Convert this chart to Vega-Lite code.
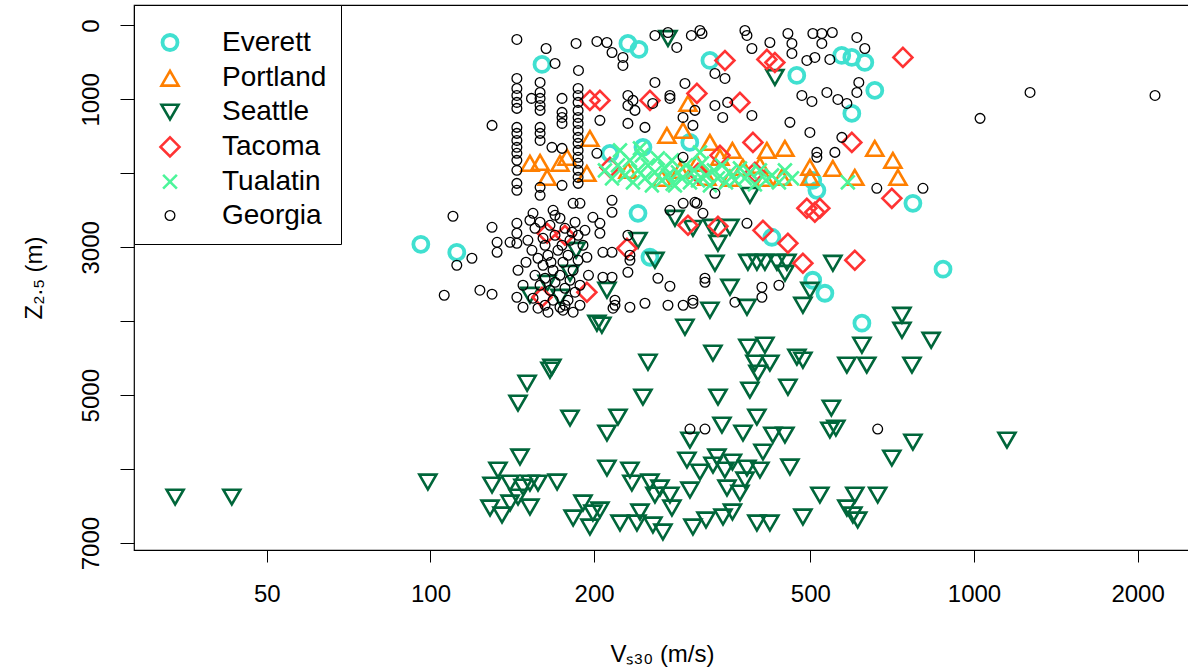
{
"$schema": "https://vega.github.io/schema/vega-lite/v6.json",
"width": 1056, "height": 545,
"autosize": {"type": "none"},
"padding": {"left": 134, "top": 5, "right": 0, "bottom": 120},
"background": "white",
"config": {
  "view": {"stroke": "black", "strokeWidth": 1.2},
  "font": "Liberation Sans",
  "legend": {"orient": "none", "legendX": 0, "legendY": 0, "strokeColor": "black", "fillColor": "white", "padding": 14, "rowPadding": 5.8, "symbolOffset": 8, "labelFontSize": 28, "labelOffset": 38, "labelFont": "Liberation Sans", "labelColor": "black", "titleFontSize": 2, "titlePadding": 7.5}
},
"data": {"values": [
{"site":"Everett","vs30":160.4,"z":527},{"site":"Everett","vs30":230.8,"z":243},{"site":"Everett","vs30":241.9,"z":324},{"site":"Everett","vs30":326.7,"z":473},{"site":"Everett","vs30":472,"z":676},{"site":"Everett","vs30":571,"z":405},{"site":"Everett","vs30":596,"z":432},{"site":"Everett","vs30":629.7,"z":500},{"site":"Everett","vs30":656.9,"z":878},{"site":"Everett","vs30":596,"z":1189},{"site":"Everett","vs30":213.9,"z":1729},{"site":"Everett","vs30":246,"z":1648},{"site":"Everett","vs30":300,"z":1581},{"site":"Everett","vs30":505,"z":2094},{"site":"Everett","vs30":514,"z":2229},{"site":"Everett","vs30":96,"z":2959},{"site":"Everett","vs30":111.8,"z":3067},{"site":"Everett","vs30":240.9,"z":2540},{"site":"Everett","vs30":253.4,"z":3134},{"site":"Everett","vs30":424.8,"z":2864},{"site":"Everett","vs30":772,"z":2405},{"site":"Everett","vs30":877,"z":3296},{"site":"Everett","vs30":505,"z":3445},{"site":"Everett","vs30":531.7,"z":3621},{"site":"Everett","vs30":622,"z":4026},
{"site":"Portland","vs30":196.5,"z":1527},{"site":"Portland","vs30":152.4,"z":1864},{"site":"Portland","vs30":159.1,"z":1851},{"site":"Portland","vs30":163.9,"z":2054},{"site":"Portland","vs30":173.1,"z":1864},{"site":"Portland","vs30":178.3,"z":1783},{"site":"Portland","vs30":194,"z":2000},{"site":"Portland","vs30":297.7,"z":1054},{"site":"Portland","vs30":272.3,"z":1486},{"site":"Portland","vs30":291.5,"z":1419},{"site":"Portland","vs30":326.7,"z":1581},{"site":"Portland","vs30":359.4,"z":1689},{"site":"Portland","vs30":415.9,"z":1689},{"site":"Portland","vs30":448.9,"z":1662},{"site":"Portland","vs30":309.2,"z":1864},{"site":"Portland","vs30":287.8,"z":1959},{"site":"Portland","vs30":375.7,"z":1918},{"site":"Portland","vs30":443.2,"z":2054},{"site":"Portland","vs30":322.6,"z":2054},{"site":"Portland","vs30":656.9,"z":1662},{"site":"Portland","vs30":709.3,"z":1824},{"site":"Portland","vs30":499,"z":1918},{"site":"Portland","vs30":550,"z":1932},{"site":"Portland","vs30":603.6,"z":2054},{"site":"Portland","vs30":724.7,"z":2054},{"site":"Portland","vs30":499,"z":2054},{"site":"Portland","vs30":403.8,"z":1891},{"site":"Portland","vs30":340.9,"z":1783},{"site":"Portland","vs30":412.4,"z":2067},{"site":"Portland","vs30":355.6,"z":2067},{"site":"Portland","vs30":230.8,"z":1959},{"site":"Portland","vs30":266.6,"z":2067},
{"site":"Seattle","vs30":273.5,"z":176},{"site":"Seattle","vs30":430.2,"z":703},{"site":"Seattle","vs30":387,"z":2297},{"site":"Seattle","vs30":281.7,"z":2607},{"site":"Seattle","vs30":304,"z":2743},{"site":"Seattle","vs30":329.5,"z":2729},{"site":"Seattle","vs30":355.6,"z":2729},{"site":"Seattle","vs30":338,"z":2945},{"site":"Seattle","vs30":240.9,"z":2905},{"site":"Seattle","vs30":258.8,"z":3175},{"site":"Seattle","vs30":333.7,"z":3215},{"site":"Seattle","vs30":383.7,"z":3202},{"site":"Seattle","vs30":398.6,"z":3202},{"site":"Seattle","vs30":412.4,"z":3202},{"site":"Seattle","vs30":433.9,"z":3202},{"site":"Seattle","vs30":452.7,"z":3202},{"site":"Seattle","vs30":448.9,"z":3350},{"site":"Seattle","vs30":211.2,"z":3580},{"site":"Seattle","vs30":355.6,"z":3540},{"site":"Seattle","vs30":382.2,"z":3810},{"site":"Seattle","vs30":326.7,"z":3850},{"site":"Seattle","vs30":293.9,"z":4080},{"site":"Seattle","vs30":206.7,"z":4053},{"site":"Seattle","vs30":383.7,"z":4350},{"site":"Seattle","vs30":412.4,"z":4323},{"site":"Seattle","vs30":330.9,"z":4431},{"site":"Seattle","vs30":251.3,"z":4553},{"site":"Seattle","vs30":395.3,"z":4566},{"site":"Seattle","vs30":421.2,"z":4566},{"site":"Seattle","vs30":472.3,"z":4485},{"site":"Seattle","vs30":185.3,"z":3040},{"site":"Seattle","vs30":180.6,"z":3350},{"site":"Seattle","vs30":163.9,"z":3486},{"site":"Seattle","vs30":152.4,"z":3648},{"site":"Seattle","vs30":173.1,"z":3675},{"site":"Seattle","vs30":202.4,"z":4026},{"site":"Seattle","vs30":167.3,"z":4620},{"site":"Seattle","vs30":550,"z":3215},{"site":"Seattle","vs30":499,"z":3580},{"site":"Seattle","vs30":484.4,"z":3783},{"site":"Seattle","vs30":737,"z":3918},{"site":"Seattle","vs30":737,"z":4121},{"site":"Seattle","vs30":834,"z":4256},{"site":"Seattle","vs30":622,"z":4323},{"site":"Seattle","vs30":484.4,"z":4526},{"site":"Seattle","vs30":583.6,"z":4593},{"site":"Seattle","vs30":635,"z":4593},{"site":"Seattle","vs30":769,"z":4593},{"site":"Seattle","vs30":150.6,"z":4837},{"site":"Seattle","vs30":144.9,"z":5107},{"site":"Seattle","vs30":180.6,"z":5309},{"site":"Seattle","vs30":98.9,"z":6174},{"site":"Seattle","vs30":146.1,"z":5836},{"site":"Seattle","vs30":133.1,"z":6012},{"site":"Seattle","vs30":129.8,"z":6215},{"site":"Seattle","vs30":140.1,"z":6188},{"site":"Seattle","vs30":148,"z":6242},{"site":"Seattle","vs30":152.4,"z":6188},{"site":"Seattle","vs30":157.7,"z":6188},{"site":"Seattle","vs30":171,"z":6174},{"site":"Seattle","vs30":144.9,"z":6377},{"site":"Seattle","vs30":128.7,"z":6525},{"site":"Seattle","vs30":135.4,"z":6620},{"site":"Seattle","vs30":140.1,"z":6458},{"site":"Seattle","vs30":152.4,"z":6512},{"site":"Seattle","vs30":183,"z":6660},{"site":"Seattle","vs30":190.8,"z":6458},{"site":"Seattle","vs30":199,"z":6593},{"site":"Seattle","vs30":196.5,"z":6782},{"site":"Seattle","vs30":165.9,"z":4661},{"site":"Seattle","vs30":246,"z":5026},{"site":"Seattle","vs30":221.3,"z":5296},{"site":"Seattle","vs30":211.2,"z":5512},{"site":"Seattle","vs30":338.1,"z":5026},{"site":"Seattle","vs30":387,"z":4931},{"site":"Seattle","vs30":400.4,"z":4701},{"site":"Seattle","vs30":454.6,"z":4891},{"site":"Seattle","vs30":398.6,"z":5296},{"site":"Seattle","vs30":343.8,"z":5404},{"site":"Seattle","vs30":300.2,"z":5607},{"site":"Seattle","vs30":375.8,"z":5512},{"site":"Seattle","vs30":426.5,"z":5539},{"site":"Seattle","vs30":448.9,"z":5539},{"site":"Seattle","vs30":409,"z":5769},{"site":"Seattle","vs30":296.4,"z":5877},{"site":"Seattle","vs30":313.2,"z":6039},{"site":"Seattle","vs30":336.5,"z":5836},{"site":"Seattle","vs30":359.4,"z":5904},{"site":"Seattle","vs30":382.2,"z":5985},{"site":"Seattle","vs30":458.5,"z":5971},{"site":"Seattle","vs30":211.2,"z":5985},{"site":"Seattle","vs30":232.8,"z":6012},{"site":"Seattle","vs30":234.7,"z":6188},{"site":"Seattle","vs30":264.4,"z":6255},{"site":"Seattle","vs30":275.8,"z":6350},{"site":"Seattle","vs30":300.2,"z":6282},{"site":"Seattle","vs30":351.2,"z":6255},{"site":"Seattle","vs30":371,"z":6323},{"site":"Seattle","vs30":242.9,"z":6579},{"site":"Seattle","vs30":278.1,"z":6525},{"site":"Seattle","vs30":223.2,"z":6728},{"site":"Seattle","vs30":239.8,"z":6728},{"site":"Seattle","vs30":256.6,"z":6755},{"site":"Seattle","vs30":267.7,"z":6850},{"site":"Seattle","vs30":304,"z":6782},{"site":"Seattle","vs30":321.3,"z":6687},{"site":"Seattle","vs30":345.3,"z":6647},{"site":"Seattle","vs30":359.4,"z":6579},{"site":"Seattle","vs30":398.6,"z":6728},{"site":"Seattle","vs30":421.2,"z":6728},{"site":"Seattle","vs30":205,"z":6552},{"site":"Seattle","vs30":546.4,"z":5174},{"site":"Seattle","vs30":543,"z":5471},{"site":"Seattle","vs30":557,"z":5444},{"site":"Seattle","vs30":772,"z":5634},{"site":"Seattle","vs30":706,"z":5850},{"site":"Seattle","vs30":520.5,"z":6350},{"site":"Seattle","vs30":603.6,"z":6350},{"site":"Seattle","vs30":665,"z":6350},{"site":"Seattle","vs30":583.6,"z":6525},{"site":"Seattle","vs30":598.6,"z":6620},{"site":"Seattle","vs30":611,"z":6687},{"site":"Seattle","vs30":484.4,"z":6647},{"site":"Seattle","vs30":33.9,"z":6377},{"site":"Seattle","vs30":43.1,"z":6377},{"site":"Seattle","vs30":1150,"z":5607},{"site":"Seattle","vs30":253.4,"z":6174},{"site":"Seattle","vs30":258.8,"z":6350},{"site":"Seattle","vs30":331,"z":5945},{"site":"Seattle","vs30":348,"z":6012},{"site":"Seattle","vs30":379,"z":6147},{"site":"Seattle","vs30":403.8,"z":6012},
{"site":"Tacoma","vs30":196.5,"z":1013},{"site":"Tacoma","vs30":205,"z":1013},{"site":"Tacoma","vs30":253.4,"z":1013},{"site":"Tacoma","vs30":309.2,"z":919},{"site":"Tacoma","vs30":371,"z":1040},{"site":"Tacoma","vs30":348.2,"z":473},{"site":"Tacoma","vs30":415.9,"z":459},{"site":"Tacoma","vs30":430.2,"z":500},{"site":"Tacoma","vs30":740,"z":432},{"site":"Tacoma","vs30":392,"z":1581},{"site":"Tacoma","vs30":340.9,"z":1756},{"site":"Tacoma","vs30":213.9,"z":1918},{"site":"Tacoma","vs30":310.5,"z":2000},{"site":"Tacoma","vs30":395.3,"z":1986},{"site":"Tacoma","vs30":596,"z":1581},{"site":"Tacoma","vs30":163.9,"z":2810},{"site":"Tacoma","vs30":176.8,"z":2837},{"site":"Tacoma","vs30":160.4,"z":3675},{"site":"Tacoma","vs30":194,"z":3607},{"site":"Tacoma","vs30":229.9,"z":3013},{"site":"Tacoma","vs30":297.7,"z":2702},{"site":"Tacoma","vs30":338,"z":2716},{"site":"Tacoma","vs30":409,"z":2770},{"site":"Tacoma","vs30":454.6,"z":2945},{"site":"Tacoma","vs30":492.6,"z":2472},{"site":"Tacoma","vs30":509.6,"z":2526},{"site":"Tacoma","vs30":520.5,"z":2472},{"site":"Tacoma","vs30":706,"z":2337},{"site":"Tacoma","vs30":484.4,"z":3215},{"site":"Tacoma","vs30":603.6,"z":3175},
{"site":"Tualatin","vs30":209.4,"z":1959},{"site":"Tualatin","vs30":215.8,"z":2067},{"site":"Tualatin","vs30":221.3,"z":1891},{"site":"Tualatin","vs30":227.9,"z":2027},{"site":"Tualatin","vs30":232.8,"z":1824},{"site":"Tualatin","vs30":235.8,"z":2121},{"site":"Tualatin","vs30":240.9,"z":1959},{"site":"Tualatin","vs30":245,"z":1756},{"site":"Tualatin","vs30":248.1,"z":2067},{"site":"Tualatin","vs30":251.3,"z":1891},{"site":"Tualatin","vs30":255.5,"z":2162},{"site":"Tualatin","vs30":258.8,"z":1986},{"site":"Tualatin","vs30":262.1,"z":1797},{"site":"Tualatin","vs30":266.6,"z":2094},{"site":"Tualatin","vs30":270,"z":1932},{"site":"Tualatin","vs30":273.5,"z":2027},{"site":"Tualatin","vs30":278.1,"z":1824},{"site":"Tualatin","vs30":281.7,"z":2162},{"site":"Tualatin","vs30":285.3,"z":1986},{"site":"Tualatin","vs30":290.2,"z":2067},{"site":"Tualatin","vs30":295.2,"z":1891},{"site":"Tualatin","vs30":300.2,"z":2121},{"site":"Tualatin","vs30":305.3,"z":1959},{"site":"Tualatin","vs30":310.5,"z":2094},{"site":"Tualatin","vs30":315.9,"z":1864},{"site":"Tualatin","vs30":321.3,"z":2027},{"site":"Tualatin","vs30":326.7,"z":2162},{"site":"Tualatin","vs30":332.3,"z":1959},{"site":"Tualatin","vs30":338,"z":2067},{"site":"Tualatin","vs30":343.8,"z":1891},{"site":"Tualatin","vs30":349.7,"z":2121},{"site":"Tualatin","vs30":355.6,"z":1986},{"site":"Tualatin","vs30":363.2,"z":2094},{"site":"Tualatin","vs30":371,"z":1932},{"site":"Tualatin","vs30":378.9,"z":2067},{"site":"Tualatin","vs30":387,"z":1986},{"site":"Tualatin","vs30":395.3,"z":2148},{"site":"Tualatin","vs30":403.8,"z":1959},{"site":"Tualatin","vs30":414.2,"z":2094},{"site":"Tualatin","vs30":425,"z":2027},{"site":"Tualatin","vs30":437.6,"z":2121},{"site":"Tualatin","vs30":448.9,"z":1959},{"site":"Tualatin","vs30":462.4,"z":2067},{"site":"Tualatin","vs30":586,"z":2121},{"site":"Tualatin","vs30":223.2,"z":1689},{"site":"Tualatin","vs30":242.9,"z":1662},{"site":"Tualatin","vs30":279,"z":2140},{"site":"Tualatin","vs30":313.2,"z":1716},
{"site":"Georgia","vs30":144.2,"z":189},{"site":"Georgia","vs30":163.2,"z":311},{"site":"Georgia","vs30":185.3,"z":243},{"site":"Georgia","vs30":202.4,"z":216},{"site":"Georgia","vs30":169.5,"z":513},{"site":"Georgia","vs30":187.2,"z":608},{"site":"Georgia","vs30":144.2,"z":716},{"site":"Georgia","vs30":144.2,"z":851},{"site":"Georgia","vs30":144.2,"z":946},{"site":"Georgia","vs30":144.2,"z":1040},{"site":"Georgia","vs30":144.2,"z":1121},{"site":"Georgia","vs30":159.1,"z":770},{"site":"Georgia","vs30":159.1,"z":905},{"site":"Georgia","vs30":159.1,"z":986},{"site":"Georgia","vs30":159.1,"z":1081},{"site":"Georgia","vs30":159.1,"z":1148},{"site":"Georgia","vs30":153.4,"z":986},{"site":"Georgia","vs30":174.6,"z":986},{"site":"Georgia","vs30":174.6,"z":1175},{"site":"Georgia","vs30":174.6,"z":1243},{"site":"Georgia","vs30":174.6,"z":1324},{"site":"Georgia","vs30":186.9,"z":851},{"site":"Georgia","vs30":186.9,"z":946},{"site":"Georgia","vs30":186.9,"z":1040},{"site":"Georgia","vs30":186.9,"z":1148},{"site":"Georgia","vs30":186.9,"z":1243},{"site":"Georgia","vs30":186.9,"z":1324},{"site":"Georgia","vs30":186.9,"z":1419},{"site":"Georgia","vs30":186.9,"z":1513},{"site":"Georgia","vs30":186.9,"z":1594},{"site":"Georgia","vs30":186.9,"z":1689},{"site":"Georgia","vs30":186.9,"z":1783},{"site":"Georgia","vs30":186.9,"z":1864},{"site":"Georgia","vs30":186.9,"z":1959},{"site":"Georgia","vs30":186.9,"z":2054},{"site":"Georgia","vs30":186.9,"z":2135},{"site":"Georgia","vs30":129.8,"z":1351},{"site":"Georgia","vs30":144.2,"z":1378},{"site":"Georgia","vs30":144.2,"z":1459},{"site":"Georgia","vs30":144.2,"z":1554},{"site":"Georgia","vs30":144.2,"z":1648},{"site":"Georgia","vs30":144.2,"z":1729},{"site":"Georgia","vs30":144.2,"z":1824},{"site":"Georgia","vs30":144.2,"z":1959},{"site":"Georgia","vs30":144.2,"z":2135},{"site":"Georgia","vs30":144.2,"z":2229},{"site":"Georgia","vs30":159.1,"z":1378},{"site":"Georgia","vs30":159.1,"z":1459},{"site":"Georgia","vs30":159.1,"z":1554},{"site":"Georgia","vs30":167.3,"z":1648},{"site":"Georgia","vs30":174.6,"z":1662},{"site":"Georgia","vs30":202.4,"z":1729},{"site":"Georgia","vs30":159.1,"z":2189},{"site":"Georgia","vs30":159.1,"z":2297},{"site":"Georgia","vs30":174.6,"z":2162},
{"site":"Georgia","vs30":211.2,"z":230},{"site":"Georgia","vs30":215.8,"z":365},{"site":"Georgia","vs30":226,"z":432},{"site":"Georgia","vs30":226,"z":540},{"site":"Georgia","vs30":258.8,"z":135},{"site":"Georgia","vs30":273.5,"z":95},{"site":"Georgia","vs30":283.9,"z":297},{"site":"Georgia","vs30":302,"z":135},{"site":"Georgia","vs30":313.2,"z":68},{"site":"Georgia","vs30":315.9,"z":108},{"site":"Georgia","vs30":333.7,"z":648},{"site":"Georgia","vs30":348.2,"z":716},{"site":"Georgia","vs30":378.9,"z":68},{"site":"Georgia","vs30":382.2,"z":135},{"site":"Georgia","vs30":390.3,"z":311},{"site":"Georgia","vs30":421.2,"z":230},{"site":"Georgia","vs30":454.6,"z":108},{"site":"Georgia","vs30":462.4,"z":243},{"site":"Georgia","vs30":462.4,"z":378},{"site":"Georgia","vs30":258.8,"z":770},{"site":"Georgia","vs30":293.9,"z":784},{"site":"Georgia","vs30":230.8,"z":946},{"site":"Georgia","vs30":235.8,"z":1013},{"site":"Georgia","vs30":230.8,"z":1081},{"site":"Georgia","vs30":237.8,"z":1148},{"site":"Georgia","vs30":230.8,"z":1324},{"site":"Georgia","vs30":248.1,"z":1378},{"site":"Georgia","vs30":275.8,"z":946},{"site":"Georgia","vs30":275.8,"z":986},{"site":"Georgia","vs30":256.4,"z":1054},{"site":"Georgia","vs30":291.5,"z":1243},{"site":"Georgia","vs30":306.6,"z":1148},{"site":"Georgia","vs30":304,"z":1351},{"site":"Georgia","vs30":333.7,"z":1081},{"site":"Georgia","vs30":344.9,"z":1243},{"site":"Georgia","vs30":352.2,"z":1040},{"site":"Georgia","vs30":390.3,"z":1216},{"site":"Georgia","vs30":458.5,"z":1310},{"site":"Georgia","vs30":205,"z":1283},{"site":"Georgia","vs30":291.5,"z":1783},
{"site":"Georgia","vs30":505.3,"z":108},{"site":"Georgia","vs30":524.9,"z":108},{"site":"Georgia","vs30":548.7,"z":95},{"site":"Georgia","vs30":524.9,"z":243},{"site":"Georgia","vs30":608.8,"z":162},{"site":"Georgia","vs30":629.7,"z":311},{"site":"Georgia","vs30":509.6,"z":432},{"site":"Georgia","vs30":492.6,"z":473},{"site":"Georgia","vs30":543,"z":459},{"site":"Georgia","vs30":536.2,"z":905},{"site":"Georgia","vs30":503.3,"z":1027},{"site":"Georgia","vs30":482.3,"z":946},{"site":"Georgia","vs30":561.8,"z":1000},{"site":"Georgia","vs30":583.6,"z":1054},{"site":"Georgia","vs30":608.8,"z":905},{"site":"Georgia","vs30":613.9,"z":770},{"site":"Georgia","vs30":499,"z":1446},{"site":"Georgia","vs30":571.3,"z":1513},{"site":"Georgia","vs30":513.9,"z":1716},{"site":"Georgia","vs30":513.9,"z":1783},{"site":"Georgia","vs30":554.7,"z":1716},{"site":"Georgia","vs30":662.5,"z":2202},{"site":"Georgia","vs30":805.6,"z":2202},{"site":"Georgia","vs30":1026,"z":1256},{"site":"Georgia","vs30":1268,"z":905},{"site":"Georgia","vs30":2153,"z":946},
{"site":"Georgia","vs30":110,"z":2580},{"site":"Georgia","vs30":129.8,"z":2729},{"site":"Georgia","vs30":132.6,"z":2932},{"site":"Georgia","vs30":132.6,"z":3067},{"site":"Georgia","vs30":144.2,"z":2675},{"site":"Georgia","vs30":144.2,"z":2810},{"site":"Georgia","vs30":144.2,"z":2945},{"site":"Georgia","vs30":140.1,"z":2932},{"site":"Georgia","vs30":144.9,"z":3310},{"site":"Georgia","vs30":119.2,"z":3148},{"site":"Georgia","vs30":111.8,"z":3242},{"site":"Georgia","vs30":106,"z":3648},{"site":"Georgia","vs30":123.3,"z":3580},{"site":"Georgia","vs30":129.8,"z":3634},{"site":"Georgia","vs30":144.2,"z":3675},{"site":"Georgia","vs30":148,"z":3810},{"site":"Georgia","vs30":199,"z":2594},{"site":"Georgia","vs30":188.4,"z":2405},{"site":"Georgia","vs30":183,"z":2405},{"site":"Georgia","vs30":168.1,"z":2499},{"site":"Georgia","vs30":154.4,"z":2540},{"site":"Georgia","vs30":194,"z":3134},{"site":"Georgia","vs30":188.4,"z":3783},{"site":"Georgia","vs30":162.5,"z":3783},{"site":"Georgia","vs30":173.1,"z":3810},
{"site":"Georgia","vs30":152.4,"z":2634},{"site":"Georgia","vs30":155.7,"z":2743},{"site":"Georgia","vs30":159.1,"z":2661},{"site":"Georgia","vs30":162.5,"z":2972},{"site":"Georgia","vs30":165.9,"z":2702},{"site":"Georgia","vs30":169.5,"z":2837},{"site":"Georgia","vs30":173.1,"z":2607},{"site":"Georgia","vs30":176.8,"z":2743},{"site":"Georgia","vs30":180.6,"z":2905},{"site":"Georgia","vs30":184.5,"z":2661},{"site":"Georgia","vs30":186.9,"z":2837},{"site":"Georgia","vs30":190.8,"z":2972},{"site":"Georgia","vs30":153.7,"z":3040},{"site":"Georgia","vs30":157.7,"z":3148},{"site":"Georgia","vs30":161.1,"z":3242},{"site":"Georgia","vs30":164.5,"z":3107},{"site":"Georgia","vs30":168.1,"z":3310},{"site":"Georgia","vs30":171.6,"z":3040},{"site":"Georgia","vs30":175.3,"z":3202},{"site":"Georgia","vs30":179.1,"z":3107},{"site":"Georgia","vs30":183,"z":3310},{"site":"Georgia","vs30":186.9,"z":3175},{"site":"Georgia","vs30":155.7,"z":3378},{"site":"Georgia","vs30":159.1,"z":3513},{"site":"Georgia","vs30":162.5,"z":3418},{"site":"Georgia","vs30":165.9,"z":3580},{"site":"Georgia","vs30":169.5,"z":3472},{"site":"Georgia","vs30":173.1,"z":3378},{"site":"Georgia","vs30":176.8,"z":3553},{"site":"Georgia","vs30":180.6,"z":3445},{"site":"Georgia","vs30":184.5,"z":3607},{"site":"Georgia","vs30":188.4,"z":3513},{"site":"Georgia","vs30":154.4,"z":3688},{"site":"Georgia","vs30":157.7,"z":3823},{"site":"Georgia","vs30":168.1,"z":3715},{"site":"Georgia","vs30":175.3,"z":3850},{"site":"Georgia","vs30":179.1,"z":3715},{"site":"Georgia","vs30":183,"z":3877},{"site":"Georgia","vs30":164.5,"z":3877},{"site":"Georgia","vs30":151.1,"z":2905},{"site":"Georgia","vs30":149.9,"z":3202},{"site":"Georgia","vs30":148,"z":3513},{"site":"Georgia","vs30":192.4,"z":2770},{"site":"Georgia","vs30":195.3,"z":3378},{"site":"Georgia","vs30":169.5,"z":2567},{"site":"Georgia","vs30":174.6,"z":2972},{"site":"Georgia","vs30":161.1,"z":2878},{"site":"Georgia","vs30":166.6,"z":3202},{"site":"Georgia","vs30":182.2,"z":2797},{"site":"Georgia","vs30":176.8,"z":3783},
{"site":"Georgia","vs30":215.8,"z":2364},{"site":"Georgia","vs30":215.8,"z":2526},{"site":"Georgia","vs30":205,"z":2675},{"site":"Georgia","vs30":205,"z":2810},{"site":"Georgia","vs30":207.6,"z":3067},{"site":"Georgia","vs30":215.8,"z":3067},{"site":"Georgia","vs30":230.8,"z":2837},{"site":"Georgia","vs30":232.8,"z":3107},{"site":"Georgia","vs30":232.8,"z":3175},{"site":"Georgia","vs30":230.8,"z":3337},{"site":"Georgia","vs30":215.8,"z":3405},{"site":"Georgia","vs30":207.6,"z":3405},{"site":"Georgia","vs30":262.1,"z":3418},{"site":"Georgia","vs30":275.8,"z":3526},{"site":"Georgia","vs30":218.5,"z":3715},{"site":"Georgia","vs30":218.5,"z":3783},{"site":"Georgia","vs30":216.7,"z":3823},{"site":"Georgia","vs30":232.8,"z":3810},{"site":"Georgia","vs30":248.1,"z":3756},{"site":"Georgia","vs30":273.5,"z":3783},{"site":"Georgia","vs30":291.7,"z":3783},{"site":"Georgia","vs30":304,"z":3715},{"site":"Georgia","vs30":304,"z":3756},{"site":"Georgia","vs30":319.9,"z":3418},{"site":"Georgia","vs30":319.9,"z":3472},{"site":"Georgia","vs30":363.2,"z":3742},{"site":"Georgia","vs30":407.2,"z":3540},{"site":"Georgia","vs30":407.2,"z":3675},{"site":"Georgia","vs30":437.6,"z":3513},{"site":"Georgia","vs30":275.8,"z":2499},{"site":"Georgia","vs30":291.7,"z":2405},{"site":"Georgia","vs30":306.6,"z":2391},{"site":"Georgia","vs30":309.2,"z":2405},{"site":"Georgia","vs30":317.2,"z":2540},{"site":"Georgia","vs30":333.7,"z":2270},{"site":"Georgia","vs30":382.2,"z":2675},{"site":"Georgia","vs30":300.2,"z":5458},{"site":"Georgia","vs30":319.9,"z":5458},{"site":"Georgia","vs30":665,"z":5458}
]},
"mark": {"type": "point", "filled": false, "opacity": 1},
"encoding": {
  "x": {"field": "vs30", "type": "quantitative",
    "scale": {"type": "log", "domain": [28.48, 2497], "nice": false},
    "axis": {"values": [50, 100, 200, 500, 1000, 2000], "format": "d", "domain": false, "grid": false, "tickSize": 12, "tickColor": "black", "labelFontSize": 24, "labelColor": "black", "labelPadding": 20, "labelFont": "Liberation Sans", "labelFlush": false, "labelOverlap": false, "title": "Vₛ₃₀ (m/s)", "titleFontSize": 24, "titleFontWeight": "normal", "titleColor": "black", "titleFont": "Liberation Sans", "titlePadding": 36}},
  "y": {"field": "z", "type": "quantitative",
    "scale": {"domain": [-277, 7093], "reverse": true, "nice": false, "zero": false},
    "axis": {"values": [0, 1000, 2000, 3000, 4000, 5000, 6000, 7000], "format": "d", "labelExpr": "datum.value == 2000 || datum.value == 4000 || datum.value == 6000 ? '' : datum.label", "domain": false, "grid": false, "tickSize": 14, "tickColor": "black", "labelFontSize": 24, "labelColor": "black", "labelAngle": 270, "labelAlign": "center", "labelBaseline": "bottom", "labelPadding": 17, "labelFont": "Liberation Sans", "labelFlush": false, "labelOverlap": false, "title": "Z₂.₅ (m)", "titleFontSize": 24, "titleFontWeight": "normal", "titleColor": "black", "titleFont": "Liberation Sans", "titlePadding": 33}},
  "color": {"field": "site", "type": "nominal",
    "scale": {"domain": ["Everett", "Portland", "Seattle", "Tacoma", "Tualatin", "Georgia"], "range": ["#40E0D0", "#FF7F00", "#00663A", "#FF3333", "#4CF59A", "#000000"]},
    "legend": {"title": " "}},
  "shape": {"field": "site", "type": "nominal",
    "scale": {"domain": ["Everett", "Portland", "Seattle", "Tacoma", "Tualatin", "Georgia"], "range": ["circle", "triangle-up", "triangle-down", "diamond", "M-1,-1L1,1M-1,1L1,-1", "circle"]},
    "legend": {"title": " "}},
  "size": {"field": "site", "type": "nominal",
    "scale": {"type": "ordinal", "domain": ["Everett", "Portland", "Seattle", "Tacoma", "Tualatin", "Georgia"], "range": [225, 290, 290, 360, 190, 95]},
    "legend": {"title": " "}},
  "strokeWidth": {"field": "site", "type": "nominal",
    "scale": {"type": "ordinal", "domain": ["Everett", "Portland", "Seattle", "Tacoma", "Tualatin", "Georgia"], "range": [3.8, 2.6, 2.6, 2.6, 2.6, 1.3]},
    "legend": {"title": " "}}
}
}
